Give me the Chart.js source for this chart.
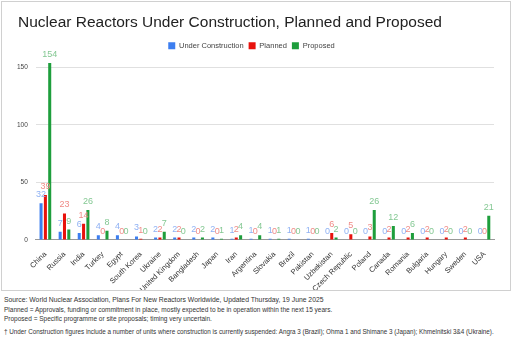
<!DOCTYPE html>
<html lang="en">
<head>
    <meta charset="UTF-8">
    <title>Nuclear Reactors</title>
    <style>
        body { margin: 0; width: 512px; height: 341px; background: #fff; font-family: "Liberation Sans", Arial, sans-serif; overflow: hidden; }
        #box { position: absolute; left: 1px; top: 1px; width: 508px; height: 288px; border: 1px solid #d0d0d0; }
        .note { position: absolute; left: 4px; color: #333; white-space: nowrap; }
    </style>
    <script src="https://cdn.jsdelivr.net/npm/chart.js"></script>
</head>
<body>
    <div id="box"><canvas id="chart" width="508" height="288"></canvas></div>
    <div class="note" style="top:296px; font-size:6.8px">Source: World Nuclear Association, Plans For New Reactors Worldwide, Updated Thursday, 19 June 2025</div>
    <div class="note" style="top:306px; font-size:6.5px">Planned = Approvals, funding or commitment in place, mostly expected to be in operation within the next 15 years.</div>
    <div class="note" style="top:315px; font-size:6.5px">Proposed = Specific programme or site proposals; timing very uncertain.</div>
    <div class="note" style="top:328px; font-size:6.3px">&dagger; Under Construction figures include a number of units where construction is currently suspended: Angra 3 (Brazil); Ohma 1 and Shimane 3 (Japan); Khmelnitski 3&amp;4 (Ukraine).</div>

    <script>
        const chartTitle = 'Nuclear Reactors Under Construction, Planned and Proposed';
        const countries = ['China', 'Russia', 'India', 'Turkey', 'Egypt', 'South Korea', 'Ukraine', 'United Kingdom',
            'Bangladesh', 'Japan', 'Iran', 'Argentina', 'Slovakia', 'Brazil', 'Pakistan', 'Uzbekistan',
            'Czech Republic', 'Poland', 'Canada', 'Romania', 'Bulgaria', 'Hungary', 'Sweden', 'USA'];
        const underConstruction = [32, 7, 6, 4, 4, 3, 2, 2, 2, 2, 1, 1, 1, 1, 1, 0, 0, 0, 0, 0, 0, 0, 0, 0];
        const planned = [39, 23, 14, 0, 0, 1, 2, 2, 0, 0, 2, 0, 0, 0, 0, 6, 5, 3, 2, 2, 2, 2, 2, 0];
        const proposed = [154, 9, 26, 8, 0, 0, 7, 0, 2, 1, 4, 4, 1, 0, 0, 2, 0, 26, 12, 6, 0, 0, 0, 21];
        const yTicks = [0, 50, 100, 150];

        // value labels above each bar + title in the top-left corner
        const barLabels = {
            id: 'barLabels',
            afterDatasetsDraw(chart) {
                const ctx = chart.ctx;
                ctx.save();
                ctx.font = '9px "Liberation Sans", Arial, sans-serif';
                ctx.textAlign = 'center';
                ctx.textBaseline = 'bottom';
                chart.data.datasets.forEach((ds, i) => {
                    const meta = chart.getDatasetMeta(i);
                    ctx.fillStyle = ds.labelColor;
                    meta.data.forEach((bar, j) => {
                        ctx.fillText(ds.data[j], bar.x, bar.y - 4);
                    });
                });
                ctx.fillStyle = '#222';
                ctx.font = '15.5px "Liberation Sans", Arial, sans-serif';
                ctx.textAlign = 'left';
                ctx.textBaseline = 'middle';
                ctx.fillText(chartTitle, 16, 21);
                ctx.restore();
            }
        };

        const common = { categoryPercentage: 0.68, barPercentage: 0.7 };

        new Chart(document.getElementById('chart'), {
            type: 'bar',
            data: {
                labels: countries,
                datasets: [
                    { label: 'Under Construction', data: underConstruction, backgroundColor: '#3c7ef0', labelColor: '#8fb1f3', ...common },
                    { label: 'Planned', data: planned, backgroundColor: '#e8120c', labelColor: '#f08a86', ...common },
                    { label: 'Proposed', data: proposed, backgroundColor: '#1e9e3c', labelColor: '#84c893', ...common }
                ]
            },
            options: {
                responsive: false,
                animation: false,
                layout: { padding: { left: 7, right: 16, top: 35, bottom: -6 } },
                scales: {
                    y: {
                        min: 0,
                        max: 157,
                        afterBuildTicks: axis => { axis.ticks = yTicks.map(v => ({ value: v })); },
                        ticks: { color: '#444', font: { size: 6.5, family: '"Liberation Sans", Arial' }, padding: 8 },
                        grid: { color: '#e0e0e0', drawTicks: false },
                        border: { display: false }
                    },
                    x: {
                        ticks: { color: '#333', font: { size: 7.5, family: '"Liberation Sans", Arial' }, maxRotation: 45, minRotation: 45, autoSkip: false, padding: 2 },
                        grid: { display: false },
                        border: { color: '#999' }
                    }
                },
                plugins: {
                    legend: {
                        labels: { boxWidth: 7, boxHeight: 7, color: '#444', font: { size: 7.5, family: '"Liberation Sans", Arial' }, padding: 5 }
                    },
                    tooltip: { enabled: false }
                }
            },
            plugins: [barLabels]
        });
    </script>
</body>
</html>
